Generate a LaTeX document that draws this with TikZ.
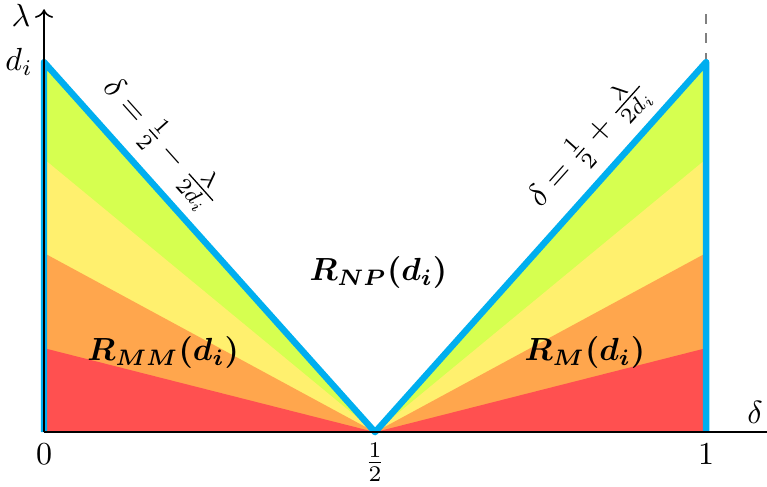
\documentclass[tikz,border=0pt]{standalone}
\usepackage{amsmath,amssymb}
\usepackage{tikz}
\usetikzlibrary{arrows.meta,positioning,calc}

\definecolor{bandr}{RGB}{255,80,80}
\definecolor{bando}{RGB}{255,166,77}
\definecolor{bandy}{RGB}{255,240,110}
\definecolor{bandg}{RGB}{214,255,80}
\definecolor{edgeblue}{RGB}{0,174,239}

\begin{document}
\begin{tikzpicture}[x=7.272cm, y=4.064cm,
	   ax/.style={line width=0.5pt},
	   edge/.style={draw=edgeblue, line width=2pt, line join=round},
	   reg/.style={font=\normalsize},
	   tick/.style={below}]
	  \useasboundingbox (-0.0665,-0.146) rectangle (1.092,1.168);
	  \coordinate (O) at (0,0);
	  \coordinate (H) at (0.5,0);
	  \coordinate (E) at (1,0);
	  \coordinate (Ltop) at (0,1);
	  \coordinate (Rtop) at (1,1);
	  % coloured bands
	  \foreach \h/\c in {1/bandg, 0.738/bandy, 0.484/bando, 0.227/bandr} {
	    \fill[\c] (O) -- (0,\h) -- (H) -- cycle;
	    \fill[\c] (E) -- (1,\h) -- (H) -- cycle;
	  }
	  \draw[gray, dashed, line width=0.6pt] (Rtop) -- (1,1.143);
	  \draw[edge] (O) -- (Ltop) -- (H) -- (Rtop) -- (E);
	  % axes
	  \coordinate (xend) at (1.092,0);
	  \coordinate (yend) at (0,1.143);
	  \draw[ax] (O) -- (xend);
	  \draw[ax,->] (O) -- (yend);
	  \node[tick] (t0) at (O) {$0$};
	  \node[tick] (th) at (H) {$\frac{1}{2}$};
	  \node[tick] (t1) at (E) {$1$};
	  \node (dl) at (1.074,0.054) {$\delta$};
	  \node (ll) at (-0.035,1.127) {$\lambda$};
	  \node[left] (di) at (Ltop) {$d_i$};
	  % boundary labels
	  \path (Ltop) -- (H) node[pos=0.28, above, sloped] (bl) {$\delta=\frac{1}{2}-\frac{\lambda}{2d_i}$};
	  \path (H) -- (Rtop) node[pos=0.72, above, sloped] (br) {$\delta=\frac{1}{2}+\frac{\lambda}{2d_i}$};
	  % regions
	  \node[reg] (np) at (0.505,0.432) {$\boldsymbol{R_{NP}(d_i)}$};
	  \node[reg] (mm) at (0.18,0.214) {$\boldsymbol{R_{MM}(d_i)}$};
	  \node[reg] (m) at (0.817,0.214) {$\boldsymbol{R_{M}(d_i)}$};
	\end{tikzpicture}
\end{document}
